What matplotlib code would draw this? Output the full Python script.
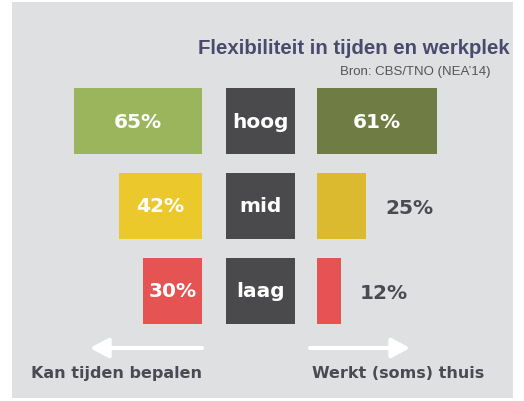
import matplotlib.pyplot as plt
from matplotlib.patches import Rectangle

# data
levels = ['hoog', 'mid', 'laag']
tijden = [65, 42, 30]      # Kan tijden bepalen
thuis = [61, 25, 12]       # Werkt (soms) thuis
left_colors = ['#9bb55c', '#ebc92c', '#e55352']
right_colors = ['#6f7d44', '#dcba30', '#e55352']

W, H = 524, 402
PX = 1.97  # pixels per percent
BG = '#dee0e1'

fig = plt.figure(figsize=(W / 100, H / 100), dpi=100)
fig.patch.set_facecolor('white')

# background layer in pixel coordinates (y down)
bg = fig.add_axes([0, 0, 1, 1], zorder=-1)
bg.set_xlim(0, W)
bg.set_ylim(H, 0)
bg.axis('off')
bg.add_patch(Rectangle((12, 3), 501, 396, facecolor=BG, edgecolor='none'))
arrow = dict(arrowstyle='-|>,head_length=1.1,head_width=0.6', color='white',
             lw=3, shrinkA=0, shrinkB=0)
bg.annotate('', xy=(90, 349), xytext=(202, 349), arrowprops=arrow)
bg.annotate('', xy=(410, 349), xytext=(310, 349), arrowprops=arrow)


def axes_px(x0, x1, y0=79.5, y1=334.5):
    ax = fig.add_axes([x0 / W, 1 - y1 / H, (x1 - x0) / W, (y1 - y0) / H])
    ax.set_ylim(len(levels) - 0.5, -0.5)
    ax.axis('off')
    return ax


txt = dict(family='DejaVu Sans', fontweight='bold', fontsize=14.5)

# left bars (grow to the left)
axl = axes_px(12, 202)
axl.set_xlim((202 - 12) / PX, 0)
axl.barh(range(len(levels)), tijden, height=0.776, color=left_colors)
for i, v in enumerate(tijden):
    axl.text(v / 2, i, f'{v}%', ha='center', va='center', color='white', **txt)

# middle labels
axm = axes_px(226, 295)
axm.set_xlim(0, 1)
axm.barh(range(len(levels)), [1] * len(levels), height=0.776, color='#4a4a4c')
for i, lab in enumerate(levels):
    axm.text(0.5, i, lab, ha='center', va='center', color='white', **txt)

# right bars
axr = axes_px(317, 512)
axr.set_xlim(0, (512 - 317) / PX)
axr.barh(range(len(levels)), thuis, height=0.776, color=right_colors)
for i, v in enumerate(thuis):
    if v > 40:
        axr.text(v / 2, i, f'{v}%', ha='center', va='center', color='white', **txt)
    else:
        axr.annotate(f'{v}%', (v, i), xytext=(14, -1), textcoords='offset points',
                     ha='left', va='center', color='#4a4b52', **txt)

# title
fig.text(510 / W, 1 - 48 / H, 'Flexibiliteit in tijden en werkplek',
         family='Liberation Sans', fontweight='bold', fontsize=14.7,
         color='#4b4a6c', ha='right', va='center')
fig.text(490 / W, 1 - 72 / H, 'Bron: CBS/TNO (NEA\u201914)',
         family='Liberation Sans', fontsize=9.5, color='#555558',
         ha='right', va='center')

lab = dict(family='DejaVu Sans', fontweight='bold', fontsize=11.5,
           color='#4a4b52', va='center')
fig.text(202 / W, 1 - 374 / H, 'Kan tijden bepalen', ha='right', **lab)
fig.text(312 / W, 1 - 374 / H, 'Werkt (soms) thuis', ha='left', **lab)

fig.savefig('out.png', dpi=100, facecolor=fig.get_facecolor())
